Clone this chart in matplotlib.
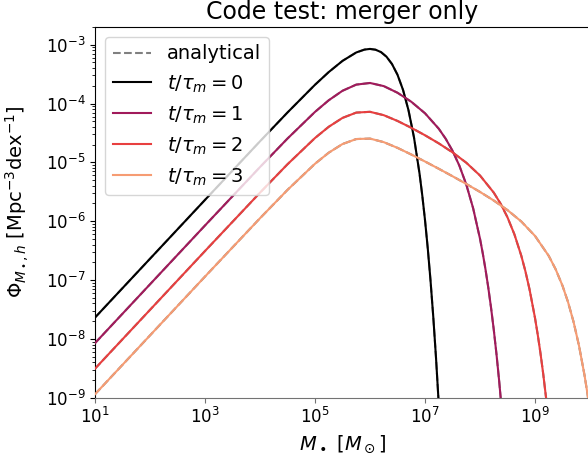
import numpy as np
import matplotlib
matplotlib.use("Agg")
import matplotlib.pyplot as plt
from matplotlib.lines import Line2D
import seaborn as sns

# Black-hole mass function under mergers only, at four times t/tau_m.
# Masses and number densities are stored as log10 values.
log_mass_t0 = [1, 3, 4, 4.5, 5, 5.25, 5.5, 5.75, 5.9, 6, 6.1, 6.2, 6.3, 6.4,
               6.5, 6.6, 6.7, 6.8, 6.9, 6.95, 7.0, 7.05, 7.1, 7.15, 7.2, 7.25, 7.3]
log_phi_t0 = [-7.638, -5.638, -4.642, -4.152, -3.681, -3.465, -3.275, -3.132,
              -3.083, -3.072, -3.085, -3.126, -3.2045, -3.329, -3.511, -3.767,
              -4.115, -4.578, -5.188, -5.559, -5.981, -6.461, -7.005, -7.623,
              -8.321, -9.110, -10.0]

log_mass_t1 = [1, 3, 4, 4.5, 5, 5.25, 5.5, 5.75, 6, 6.25, 6.5, 6.75, 7, 7.25,
               7.375, 7.5, 7.625, 7.75, 7.875, 8, 8.05, 8.1, 8.15, 8.2, 8.25,
               8.3, 8.35, 8.4, 8.45]
log_phi_t1 = [-8.0726, -6.0726, -5.0797, -4.5949, -4.1421, -3.9443, -3.7831,
              -3.6785, -3.6507, -3.7040, -3.8169, -3.9696, -4.1658, -4.4280,
              -4.5972, -4.8029, -5.0570, -5.3754, -5.7796, -6.2980, -6.5455,
              -6.8201, -7.1253, -7.4646, -7.8423, -8.2630, -8.7321, -9.2554,
              -9.8395]

log_mass_t2 = [1, 3, 4, 4.5, 5, 5.25, 5.5, 5.75, 6, 6.25, 6.5, 6.75, 7, 7.25,
               7.5, 7.75, 8, 8.25, 8.375, 8.5, 8.625, 8.75, 8.825, 8.9, 9,
               9.05, 9.1, 9.15, 9.2, 9.25, 9.3]
log_phi_t2 = [-8.5069, -6.5069, -5.5150, -5.0323, -4.5860, -4.3950, -4.2443,
              -4.1542, -4.1408, -4.1982, -4.2961, -4.4125, -4.5395, -4.6771,
              -4.8295, -5.0058, -5.2236, -5.5144, -5.7034, -5.9347, -6.2223,
              -6.5851, -6.8489, -7.1555, -7.6446, -7.9302, -8.2475, -8.6005,
              -8.9936, -9.4315, -9.9199]

log_mass_t3 = [1, 3, 4, 4.5, 5, 5.25, 5.5, 5.75, 6, 6.25, 6.5, 6.75, 7, 7.25,
               7.5, 7.75, 8, 8.25, 8.5, 8.75, 9, 9.25, 9.375, 9.5, 9.6, 9.7,
               9.8, 9.9, 9.95, 10.0]
log_phi_t3 = [-8.9412, -6.9412, -5.9497, -5.4678, -5.0238, -4.8353, -4.6886,
              -4.6038, -4.5960, -4.6564, -4.7537, -4.8663, -4.9855, -5.1088,
              -5.2355, -5.3662, -5.5026, -5.6487, -5.8117, -6.0045, -6.2503,
              -6.5901, -6.8163, -7.0971, -7.3731, -7.7076, -8.1159, -8.6168,
              -8.9094, -9.2346]

times = [0, 1, 2, 3]
series = [(log_mass_t0, log_phi_t0), (log_mass_t1, log_phi_t1),
          (log_mass_t2, log_phi_t2), (log_mass_t3, log_phi_t3)]

palette = sns.color_palette("rocket", 4)
colors = ["black", palette[1], palette[2], palette[3]]

plt.rcParams["font.family"] = ["DejaVu Sans"]
plt.rcParams["mathtext.fontset"] = "dejavusans"

fig = plt.figure(figsize=(5.88, 4.59), dpi=100)
ax = fig.add_axes([0.1616, 0.1336, 0.8418, 0.8076])

# analytical solutions underneath
for lm, lp in series:
    ax.plot(10 ** np.array(lm), 10 ** np.array(lp), color="gray",
            ls="--", lw=1.5, zorder=2)

for t, (lm, lp), c in zip(times, series, colors):
    ax.plot(10 ** np.array(lm), 10 ** np.array(lp), color=c, lw=1.5,
            zorder=3, label=rf"$t/\tau_m = {t}$")

ax.set_xscale("log")
ax.set_yscale("log")
ax.set_xlim(10, 1e10)
ax.set_ylim(1e-9, 2e-3)

ax.tick_params(axis="both", labelsize=12)
ax.spines["bottom"].set_color("0.45")
ax.tick_params(axis="x", which="both", color="0.45")

ax.set_xlabel(r"$M_\bullet$ [$M_\odot$]", fontsize=14)
ax.set_ylabel(r"$\Phi_{M_\bullet,h}$ [Mpc$^{-3}$dex$^{-1}$]", fontsize=14)
ax.yaxis.set_label_coords(-0.132, 0.53)
ax.set_title("Code test: merger only", fontsize=17)

handles, labels = ax.get_legend_handles_labels()
dash = Line2D([], [], color="gray", ls="--", lw=1.5)
ax.legend([dash] + handles, ["analytical"] + labels, loc="upper left",
          fontsize=14)

fig.savefig("out.png", dpi=100)
